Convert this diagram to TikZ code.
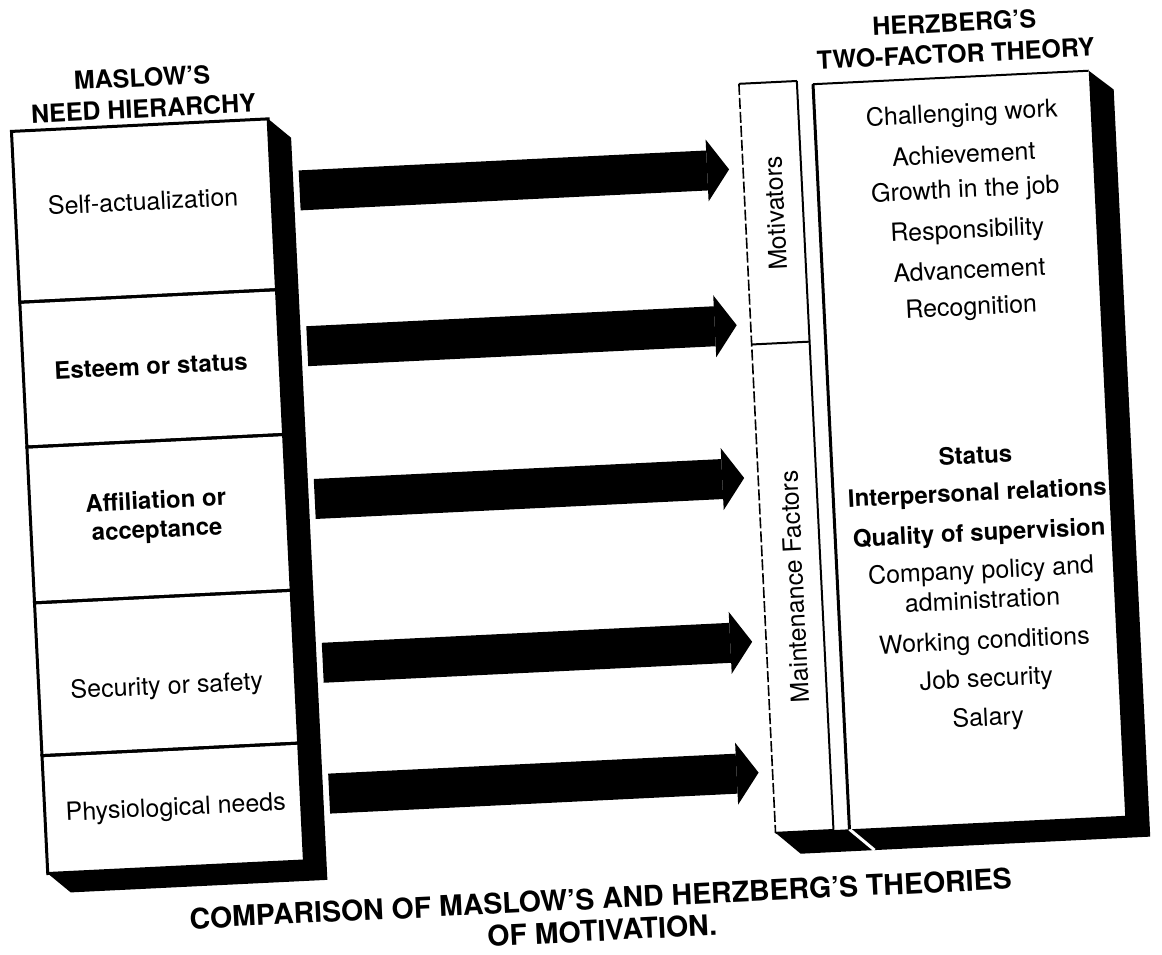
\documentclass[tikz,border=0pt]{standalone}
\usepackage{fontspec}
\setmainfont{TeX Gyre Heros}
\usetikzlibrary{arrows.meta,calc}
\begin{document}
\begin{tikzpicture}[x=1pt,y=-1pt,
  every node/.style={inner sep=0pt,outer sep=0pt,align=center},
  body/.style={font=\fontsize{25}{30}\selectfont},
  bodyb/.style={font=\fontsize{24}{29}\selectfont\bfseries},
  heading/.style={font=\fontsize{25}{31}\selectfont\bfseries},
  caption/.style={font=\fontsize{28.5}{32}\selectfont\bfseries},
  frame/.style={line width=3pt,draw=black},
  thinframe/.style={line width=2pt,draw=black},
  dashframe/.style={line width=1.6pt,draw=black,dash pattern=on 11pt off 3pt},
  shade3d/.style={fill=black},
  bigarrow/.style={line width=40pt,-{Triangle[length=22pt,width=62pt,line width=0pt]}},
  section/.style={frame,minimum width=257pt,anchor=north west}
]
\useasboundingbox (0,0) rectangle (1162,955);
\fill[white] (0,0) rectangle (1162,955);
\begin{scope}[rotate around={2.8:(581,477)},transform shape]
  % ---------- Maslow box ----------
  \fill[shade3d] (286,104) -- (308,124) -- (308,867) -- (51,867) -- (29,847) -- (286,847) -- cycle;
  \node[section,minimum height=171pt] (s1) at (29,104) {};
  \node[section,minimum height=145pt] (s2) at (29,275) {};
  \node[section,minimum height=156pt] (s3) at (29,420) {};
  \node[section,minimum height=153pt] (s4) at (29,576) {};
  \node[section,minimum height=118pt] (s5) at (29,729) {};
  \node[heading] (mtitle) at (162,72) {MASLOW'S\\NEED HIERARCHY};
  \node[body]  (l1) at (157,180) {Self-actualization};
  \node[bodyb] (l2) at (157,345) {Esteem or status};
  \node[bodyb] (l3) at (155,496) {Affiliation or\\acceptance};
  \node[body]  (l4) at (157,667) {Security or safety};
  \node[body]  (l5) at (160,789) {Physiological needs};
  % ---------- Herzberg column ----------
  \fill[shade3d] (758,842) -- (832,842) -- (856,864) -- (782,864) -- cycle;
  \fill[shade3d] (1108,96) -- (1132,116) -- (1132,864) -- (856,864) -- (832,842) -- (1108,842) -- cycle;
  \draw[white,line width=3pt] (832,842) -- (856,864);
  \coordinate (cTL) at (758,92);
  \coordinate (cTR) at (816,92);
  \coordinate (cML) at (758,353);
  \coordinate (cMR) at (816,353);
  \coordinate (cBL) at (758,842);
  \coordinate (cBR) at (816,842);
  \draw[thinframe] (cTL) -- (cTR);
  \draw[dashframe] (cTL) -- (cBL);
  \draw[thinframe] (cTR) -- (cBR);
  \draw[thinframe] (cML) -- (cMR);
  \draw[thinframe] (cBL) -- (cBR);
  \node[body,rotate=90] (mot) at (788,223) {Motivators};
  \node[body,rotate=90] (mfac) at (789,597) {Maintenance Factors};
  % ---------- Herzberg main box ----------
  \coordinate (hTL) at (832,96);
  \coordinate (hTR) at (1108,96);
  \coordinate (hBL) at (832,842);
  \coordinate (hBR) at (1108,842);
  \draw[thinframe] (hTL) -- (hTR);
  \draw[frame] (hTL) -- (hBL);
  \node[heading] (htitle) at (976,57) {HERZBERG'S\\TWO-FACTOR THEORY};
  \node[body] (m1) at (979,134) {Challenging work};
  \node[body] (m2) at (979,173) {Achievement};
  \node[body] (m3) at (979,210) {Growth in the job};
  \node[body] (m4) at (979,251) {Responsibility};
  \node[body] (m5) at (979,289) {Advancement};
  \node[body] (m6) at (979,328) {Recognition};
  \node[bodyb] (f1) at (976,474) {Status};
  \node[bodyb] (f2) at (976,514) {Interpersonal relations};
  \node[bodyb] (f3) at (976,554) {Quality of supervision};
  \node[body]  (f4) at (976,604) {Company policy and\\administration};
  \node[body]  (f5) at (976,662) {Working conditions};
  \node[body]  (f6) at (976,700) {Job security};
  \node[body]  (f7) at (976,739) {Salary};
  % ---------- arrows ----------
  \coordinate (a1s) at (314,177); \coordinate (a1e) at (744,177);
  \coordinate (a2s) at (314,333); \coordinate (a2e) at (744,333);
  \coordinate (a3s) at (314,486); \coordinate (a3e) at (744,486);
  \coordinate (a4s) at (314,650); \coordinate (a4e) at (744,650);
  \coordinate (a5s) at (314,781); \coordinate (a5e) at (744,781);
  \draw[bigarrow] (a1s) -- (a1e);
  \draw[bigarrow] (a2s) -- (a2e);
  \draw[bigarrow] (a3s) -- (a3e);
  \draw[bigarrow] (a4s) -- (a4e);
  \draw[bigarrow] (a5s) -- (a5e);
  % ---------- caption ----------
  \node[caption] (cap) at (580,915) {COMPARISON OF MASLOW'S AND HERZBERG'S THEORIES\\OF MOTIVATION.};
\end{scope}
\end{tikzpicture}
\end{document}
